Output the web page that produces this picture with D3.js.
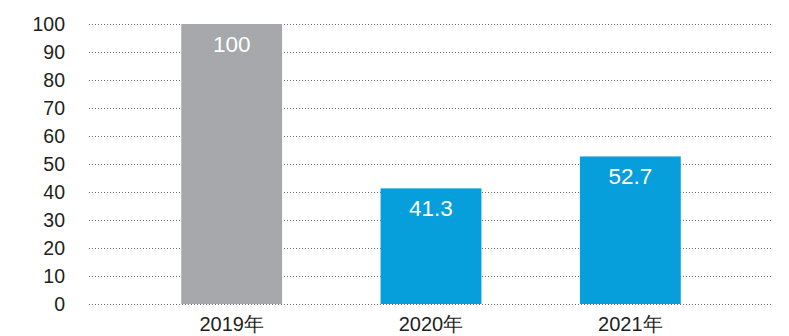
<!DOCTYPE html>
<html><head><meta charset="utf-8">
<script src="https://cdn.jsdelivr.net/npm/d3@7"></script>
<style>body{margin:0;background:#fff}svg{display:block}</style>
</head><body>
<script>
const categories = ["2019年", "2020年", "2021年"];
const values = [100, 41.3, 52.7];
const labels = ["100", "41.3", "52.7"];
const barColors = ["#a7a8ab", "#069fdb", "#069fdb"];
const yTicks = [0,10,20,30,40,50,60,70,80,90,100];

const W = 789, H = 336;
const svg = d3.select("body").append("svg").attr("width", W).attr("height", H);
const font = "'Liberation Sans', Arial, Helvetica, sans-serif";

const y = d3.scaleLinear().domain([0, 100]).range([304, 24]);
const x = d3.scaleBand().domain(categories).range([132, 730]).paddingInner(0.494).paddingOuter(0.247);

// grid
svg.append("g").selectAll("line").data(yTicks).join("line")
  .attr("x1", 89).attr("x2", 772)
  .attr("y1", d => y(d) + 0.5).attr("y2", d => y(d) + 0.5)
  .attr("stroke", "#6a6a6a").attr("stroke-width", 1).attr("stroke-dasharray", "1,2");

// y labels
svg.append("g").selectAll("text").data(yTicks).join("text")
  .attr("x", 65).attr("y", d => y(d)).attr("dy", "0.36em")
  .attr("text-anchor", "end").attr("font-family", font).attr("font-size", 19.5)
  .attr("fill", "#231f20").text(d => d);

// bars
svg.append("g").selectAll("rect").data(values).join("rect")
  .attr("x", (d, i) => x(categories[i])).attr("width", x.bandwidth())
  .attr("y", d => y(d)).attr("height", d => y(0) - y(d))
  .attr("fill", (d, i) => barColors[i]);

// value labels
svg.append("g").selectAll("text").data(values).join("text")
  .attr("x", (d, i) => x(categories[i]) + x.bandwidth() / 2)
  .attr("y", d => y(d) + 28)
  .attr("text-anchor", "middle").attr("font-family", font).attr("font-size", 22.5)
  .attr("fill", "#fff").text((d, i) => labels[i]);

// x labels
svg.append("g").selectAll("text").data(categories).join("text")
  .attr("x", d => x(d) + x.bandwidth() / 2).attr("y", 331)
  .attr("text-anchor", "middle").attr("font-family", font).attr("font-size", 20)
  .attr("fill", "#231f20").text(d => d);
</script>
</body></html>
